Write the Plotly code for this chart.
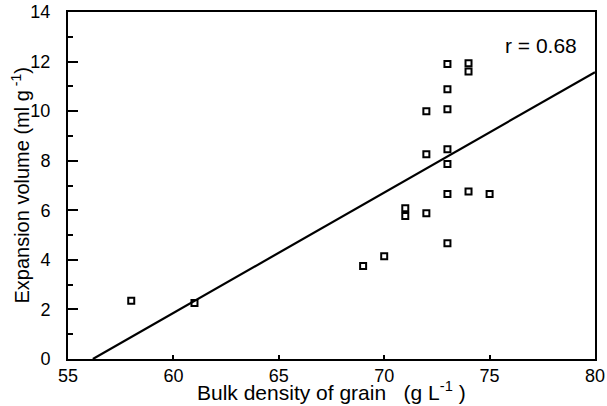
import numpy as np
import plotly.graph_objects as go

# Data
bulk_density = [58, 61, 69, 70, 71, 71, 72, 72, 72, 73, 73, 73, 73, 73, 73, 73, 74, 74, 74, 75]
expansion_volume = [2.35, 2.26, 3.75, 4.15, 6.08, 5.77, 5.88, 8.26, 10.0, 11.9, 10.88, 10.08,
                    8.46, 7.87, 6.66, 4.67, 11.93, 11.6, 6.76, 6.66]
r_label = "r = 0.68"
x_ticks = [55, 60, 65, 70, 75, 80]
y_ticks = [0, 2, 4, 6, 8, 10, 12, 14]

# Least-squares regression line
slope, intercept = np.polyfit(bulk_density, expansion_volume, 1)
x_start = -intercept / slope
x_end = 80
fit_x = np.array([x_start, x_end])
fit_y = slope * fit_x + intercept

FONT = "Liberation Sans, Arial, Helvetica, sans-serif"

fig = go.Figure()
fig.add_trace(go.Scatter(
    x=fit_x, y=fit_y, mode="lines",
    line=dict(color="black", width=2.2),
    showlegend=False, hoverinfo="skip",
))
fig.add_trace(go.Scatter(
    x=bulk_density, y=expansion_volume, mode="markers",
    marker=dict(symbol="square-open", size=6, color="black", line=dict(width=2, color="black")),
    showlegend=False,
))

fig.update_layout(
    width=607, height=406,
    margin=dict(l=68, r=12, t=12, b=47, autoexpand=False),
    paper_bgcolor="white", plot_bgcolor="white",
    font=dict(family=FONT, color="black"),
    xaxis=dict(
        range=[55, 80], tickvals=x_ticks, ticktext=[str(v) for v in x_ticks],
        showgrid=False, zeroline=False, automargin=False,
        showline=True, linecolor="black", linewidth=2, mirror=True,
        ticks="inside", ticklen=4, tickwidth=1.5, tickcolor="black",
        tickfont=dict(size=18, family=FONT, color="black"),
        ticklabelstandoff=-1,
    ),
    yaxis=dict(
        range=[0, 14], tickvals=y_ticks, ticktext=[str(v) for v in y_ticks],
        showgrid=False, zeroline=False, automargin=False,
        showline=True, linecolor="black", linewidth=2, mirror=True,
        ticks="inside", ticklen=10, tickwidth=1.5, tickcolor="black",
        minor=dict(dtick=1, ticks="inside", ticklen=5, tickwidth=1.5, tickcolor="black", showgrid=False),
        tickfont=dict(size=18, family=FONT, color="black"),
        ticklabelstandoff=12,
    ),
    annotations=[
        dict(text="Bulk density of grain&nbsp;&nbsp;&nbsp;(g L<sup>-1</sup> )",
             xref="paper", yref="paper", x=0.5, y=-0.093,
             xanchor="center", yanchor="middle", showarrow=False,
             font=dict(size=21, family=FONT, color="black")),
        dict(text="Expansion volume (ml g<sup> -1</sup>)",
             xref="paper", yref="paper", x=-0.091, y=0.5, textangle=-90,
             xanchor="center", yanchor="middle", showarrow=False,
             font=dict(size=20, family=FONT, color="black")),
        dict(text=r_label, xref="x", yref="y", x=77.44, y=12.63,
             xanchor="center", yanchor="middle", showarrow=False,
             font=dict(size=21, family=FONT, color="black")),
    ],
)

fig.write_html("out.html")
